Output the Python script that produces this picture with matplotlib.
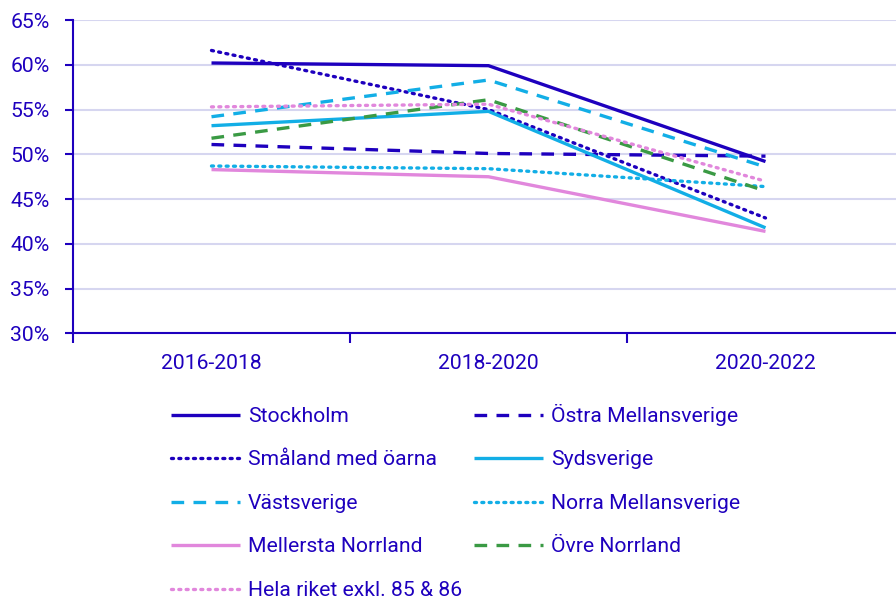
import matplotlib
matplotlib.use("Agg")
import matplotlib.pyplot as plt
from matplotlib.ticker import FixedLocator, FuncFormatter

categories = ["2016-2018", "2018-2020", "2020-2022"]
series_names = ["Stockholm", "Östra Mellansverige", "Småland med öarna", "Sydsverige",
                "Västsverige", "Norra Mellansverige", "Mellersta Norrland", "Övre Norrland",
                "Hela riket exkl. 85 & 86"]
stockholm = [60.2, 59.9, 49.2]
ostra = [51.1, 50.1, 49.8]
smaland = [61.6, 55.0, 42.9]
sydsverige = [53.2, 54.8, 41.8]
vastsverige = [54.2, 58.3, 48.6]
norra = [48.7, 48.4, 46.4]
mellersta = [48.3, 47.5, 41.4]
ovre = [51.8, 56.1, 45.9]
hela = [55.3, 55.6, 47.0]
yticks = [30, 35, 40, 45, 50, 55, 60, 65]

DB = "#1E00BE"
LB = "#12AEE6"
PK = "#E187DC"
GR = "#3A9A44"
FS = 15.2

plt.rcParams['font.family'] = ['Roboto', 'DejaVu Sans']

fig = plt.figure(figsize=(8.96, 6.01), dpi=100)
ax = fig.add_axes([73/896, 1-333.5/601, (904-73)/896, (333.5-20)/601])

dot = (0, (0.6, 1.6))
dash = (0, (3.8, 2.8))
styles = [
    (stockholm, DB, '-', 2.4),
    (ostra, DB, dash, 2.4),
    (smaland, DB, dot, 2.4),
    (sydsverige, LB, '-', 2.4),
    (vastsverige, LB, dash, 2.4),
    (norra, LB, dot, 2.4),
    (mellersta, PK, '-', 2.4),
    (ovre, GR, dash, 2.4),
    (hela, PK, dot, 2.4),
]
x = list(range(len(categories)))
handles = []
for name, (vals, c, ls, lw) in zip(series_names, styles):
    capstyle = 'round' if ls == dot else 'butt'
    h, = ax.plot(x, vals, color=c, linestyle=ls, linewidth=lw, label=name,
                 dash_capstyle=capstyle, solid_capstyle='butt', zorder=3)
    handles.append(h)

ax.set_xlim(-0.5, 2.5)
ax.set_ylim(30, 65)
ax.yaxis.set_major_locator(FixedLocator(yticks))
ax.yaxis.set_major_formatter(FuncFormatter(lambda v, p: f"{v:.0f}%"))
ax.grid(axis='y', color='#D6D6F0', linewidth=1.5, zorder=0)
ax.set_axisbelow(True)

ax.set_xticks([-0.5, 0.5, 1.5])
ax.set_xticklabels([])
ax.set_xticks(x, minor=True)
ax.set_xticklabels(categories, minor=True)
ax.tick_params(axis='x', which='major', length=7, width=1.5, color=DB)
ax.tick_params(axis='x', which='minor', length=0, pad=15, labelsize=FS, labelcolor=DB)
ax.tick_params(axis='y', length=6, width=1.5, color=DB, labelsize=FS, labelcolor=DB, pad=11)

for s in ['top', 'right']:
    ax.spines[s].set_visible(False)
for s in ['left', 'bottom']:
    ax.spines[s].set_color(DB)
    ax.spines[s].set_linewidth(1.5)

# legend order: column-major for matplotlib to appear row-major
order = [0, 2, 4, 6, 8, 1, 3, 5, 7]
leg = fig.legend([handles[i] for i in order], [series_names[i] for i in order],
                 ncol=2, loc='upper left', bbox_to_anchor=(171/896, 1-404/601),
                 frameon=False, fontsize=FS, handlelength=3.25, handletextpad=0.38,
                 labelspacing=1.16, columnspacing=0.58, borderaxespad=0, borderpad=0)
for t in leg.get_texts():
    t.set_color(DB)

fig.savefig("out.png", dpi=100)
